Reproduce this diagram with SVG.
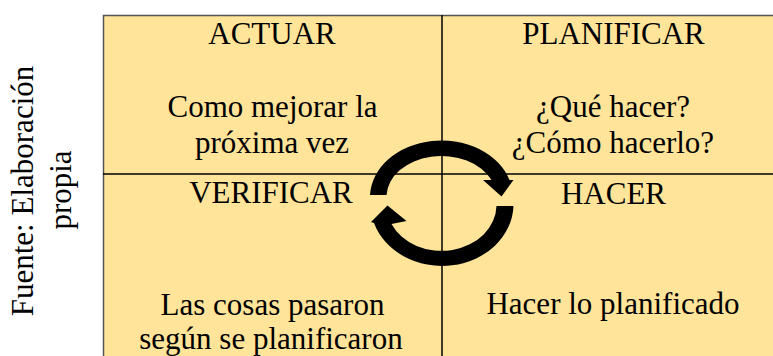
<svg xmlns="http://www.w3.org/2000/svg" width="773" height="356" viewBox="0 0 773 356">
  <style>
    .t { font-family: "Liberation Serif", "Times New Roman", serif; font-size: 31px; fill: #000; text-anchor: middle; }
    .grid { stroke: #000; stroke-width: 1.5; fill: none; }
    .arrow { fill: #000; stroke: none; }
  </style>
  <rect x="0" y="0" width="773" height="356" fill="#fff"/>
  <g id="source">
    <text class="t" transform="translate(33,191) rotate(-90)">Fuente: Elaboración</text>
    <text class="t" transform="translate(71,190) rotate(-90)">propia</text>
  </g>
  <g id="matrix">
    <rect x="103.5" y="15.5" width="700" height="400" fill="#FFE499" stroke="#555" stroke-width="1.5"/>
    <line class="grid" x1="442" y1="15" x2="442" y2="356"/>
    <line class="grid" x1="103" y1="174" x2="773" y2="174"/>
  </g>
  <g id="actuar">
    <text class="t" x="272" y="44">ACTUAR</text>
    <text class="t" x="272.5" y="117">Como mejorar la</text>
    <text class="t" x="272" y="153">próxima vez</text>
  </g>
  <g id="planificar">
    <text class="t" x="613.5" y="44">PLANIFICAR</text>
    <text class="t" x="613" y="117">¿Qué hacer?</text>
    <text class="t" x="613" y="153">¿Cómo hacerlo?</text>
  </g>
  <g id="verificar">
    <text class="t" x="271" y="203">VERIFICAR</text>
    <text class="t" x="272.5" y="315">Las cosas pasaron</text>
    <text class="t" x="271" y="349">según se planificaron</text>
  </g>
  <g id="hacer">
    <text class="t" x="613.5" y="204">HACER</text>
    <text class="t" x="613" y="314">Hacer lo planificado</text>
  </g>
  <g id="connectors">
    <path class="arrow" d="M370,195 A71.5,57 0 0 1 509.5,180 L513.5,180 L501.5,196.5 L483,180 L491.5,180 A55,41 0 0 0 386.5,195 Z"/>
    <path class="arrow" d="M513.5,206 A71.5,62 0 0 1 374,223 L371,222 L387.5,205.5 L406.5,221 L391.5,224 A55,46 0 0 0 496.5,206 Z"/>
  </g>
</svg>
